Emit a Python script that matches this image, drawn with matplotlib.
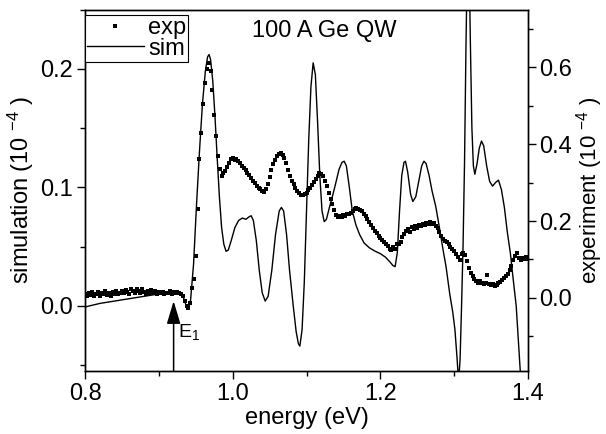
"""Ge quantum well: measured vs simulated spectrum, two y scales."""
import numpy as np
import matplotlib
matplotlib.use("Agg")
import matplotlib.pyplot as plt
from matplotlib.ticker import MultipleLocator, FormatStrFormatter
from matplotlib.lines import Line2D

plt.rcParams["font.family"] = ["Liberation Sans", "DejaVu Sans"]
plt.rcParams["mathtext.fontset"] = "custom"
plt.rcParams["mathtext.rm"] = "Liberation Sans"
plt.rcParams["mathtext.it"] = "Liberation Sans"

FS = 17

# experiment: energy grid 0.80 .. 1.40 eV, step 0.0025 (right axis, 1e-4)
exp_energy = np.round(np.arange(0.80, 1.40001, 0.0025), 4)
exp_signal = [
    0.010, 0.004, 0.013, 0.007, 0.015, 0.005, 0.011, 0.016, 0.006, 0.012, 0.009,
    0.017, 0.008, 0.013, 0.005, 0.015, 0.011, 0.019, 0.009, 0.014, 0.018,
    0.012, 0.021, 0.015, 0.010, 0.023, 0.017, 0.013, 0.024, 0.019, 0.014,
    0.022, 0.016, 0.011, 0.019, 0.014, 0.020, 0.012, 0.017, 0.009, 0.015,
    0.012, 0.016, 0.010, 0.014, 0.013, 0.017, 0.011, 0.015, 0.012, 0.016,
    0.013, 0.010, 0.005, -0.008, -0.020, -0.026, -0.012, 0.025, 0.050, 0.110,
    0.230, 0.360, 0.430, 0.505, 0.560, 0.595, 0.610, 0.590, 0.540, 0.475,
    0.420, 0.370, 0.335, 0.318, 0.325, 0.330, 0.340, 0.350, 0.360, 0.363,
    0.358, 0.362, 0.355, 0.350, 0.343, 0.338, 0.332, 0.326, 0.319, 0.312,
    0.305, 0.298, 0.292, 0.287, 0.283, 0.279, 0.276, 0.282, 0.296, 0.315,
    0.332, 0.347, 0.358, 0.368, 0.373, 0.376, 0.372, 0.363, 0.350, 0.333,
    0.318, 0.305, 0.296, 0.287, 0.278, 0.272, 0.268, 0.267, 0.270, 0.274,
    0.280, 0.286, 0.294, 0.302, 0.310, 0.318, 0.324, 0.322, 0.316, 0.305,
    0.290, 0.274, 0.258, 0.243, 0.228, 0.215, 0.211, 0.214, 0.210, 0.216,
    0.213, 0.219, 0.217, 0.222, 0.226, 0.231, 0.233, 0.232, 0.228, 0.225,
    0.219, 0.212, 0.205, 0.197, 0.189, 0.181, 0.175, 0.168, 0.162, 0.157,
    0.151, 0.146, 0.139, 0.134, 0.128, 0.125, 0.132, 0.127, 0.139, 0.141,
    0.146, 0.158, 0.166, 0.174, 0.179, 0.172, 0.184, 0.178, 0.188, 0.183,
    0.190, 0.186, 0.192, 0.189, 0.195, 0.191, 0.197, 0.193, 0.196, 0.188,
    0.182, 0.171, 0.160, 0.154, 0.149, 0.146, 0.140, 0.132, 0.128, 0.121,
    0.114, 0.106, 0.099, 0.113, 0.118, 0.112, 0.095, 0.079, 0.066, 0.056,
    0.050, 0.044, 0.040, 0.045, 0.038, 0.036, 0.039, 0.060, 0.035, 0.033,
    0.037, 0.031, 0.034, 0.038, 0.042, 0.047, 0.052, 0.058, 0.063, 0.072,
    0.083, 0.098, 0.108, 0.117, 0.105, 0.098, 0.104, 0.100, 0.107, 0.102,
]

# simulation (left axis, 1e-4)
sim_energy = [
    0.800, 0.820, 0.840, 0.860, 0.880, 0.900, 0.920, 0.928, 0.932, 0.935,
    0.938, 0.940, 0.943, 0.947, 0.951, 0.955, 0.959, 0.963, 0.966, 0.968,
    0.970, 0.973, 0.976, 0.979, 0.982, 0.985, 0.988, 0.991, 0.994, 0.998,
    1.003, 1.008, 1.013, 1.018, 1.022, 1.025, 1.028, 1.032, 1.036, 1.040,
    1.044, 1.048, 1.053, 1.058, 1.063, 1.066, 1.069, 1.073, 1.077, 1.082,
    1.086, 1.089, 1.091, 1.094, 1.097, 1.100, 1.103, 1.106, 1.109, 1.112,
    1.115, 1.118, 1.121, 1.124, 1.127, 1.131, 1.135, 1.139, 1.144, 1.148,
    1.151, 1.154, 1.158, 1.162, 1.167, 1.172, 1.178, 1.185, 1.193, 1.200,
    1.207, 1.213, 1.217, 1.220, 1.223, 1.226, 1.229, 1.232, 1.234, 1.237,
    1.241, 1.244, 1.248, 1.252, 1.256, 1.259, 1.262, 1.266, 1.270, 1.275,
    1.280, 1.285, 1.289, 1.294, 1.298, 1.301, 1.304, 1.306, 1.308, 1.310,
    1.312, 1.314, 1.316, 1.318, 1.320, 1.322, 1.324, 1.326, 1.328, 1.331,
    1.334, 1.337, 1.340, 1.344, 1.348, 1.352, 1.356, 1.360, 1.364, 1.368,
    1.372, 1.376, 1.380, 1.384, 1.387, 1.390, 1.393,
]
sim_signal = [
    -0.001, 0.002, 0.004, 0.006, 0.008, 0.010, 0.011, 0.011, 0.009, 0.004,
    -0.002, -0.003, 0.005, 0.035, 0.085, 0.130, 0.170, 0.198, 0.210, 0.212,
    0.208, 0.190, 0.160, 0.125, 0.092, 0.066, 0.052, 0.046, 0.047, 0.055,
    0.066, 0.072, 0.074, 0.073, 0.075, 0.076, 0.072, 0.055, 0.030, 0.011,
    0.004, 0.008, 0.030, 0.060, 0.080, 0.083, 0.080, 0.060, 0.030, 0.000,
    -0.022, -0.032, -0.034, -0.020, 0.020, 0.080, 0.140, 0.185, 0.205, 0.195,
    0.155, 0.110, 0.080, 0.071, 0.073, 0.083, 0.092, 0.102, 0.115, 0.121,
    0.122, 0.118, 0.100, 0.080, 0.068, 0.060, 0.053, 0.049, 0.046, 0.044,
    0.041, 0.037, 0.034, 0.033, 0.045, 0.080, 0.110, 0.121, 0.122, 0.113,
    0.094, 0.088, 0.092, 0.105, 0.118, 0.122, 0.120, 0.110, 0.097, 0.084,
    0.066, 0.047, 0.033, 0.010, -0.005, -0.020, -0.045, -0.065, -0.045, 0.000,
    0.050, 0.120, 0.220, 0.300, 0.300, 0.220, 0.150, 0.118, 0.111, 0.120,
    0.133, 0.139, 0.135, 0.118, 0.105, 0.101, 0.104, 0.106, 0.098, 0.083,
    0.062, 0.045, 0.022, 0.000, -0.030, -0.060, -0.090,
]

E1 = 0.92

fig = plt.figure(figsize=(6.06, 4.34), dpi=100)
ax = fig.add_axes([0.1403, 0.1452, 0.7310, 0.8329])
ax2 = ax.twinx()

ax.plot(sim_energy, sim_signal, color="black", lw=1.0)
ax2.plot(exp_energy, exp_signal, ls="none", marker="s", ms=2.6,
         color="black", mew=0)

ax.set_xlim(0.8, 1.4)
ax.set_ylim(-0.055, 0.25)
ax2.set_ylim(-0.19, 0.75)

ax.xaxis.set_major_locator(MultipleLocator(0.2))
ax.xaxis.set_minor_locator(MultipleLocator(0.1))
ax.yaxis.set_major_locator(MultipleLocator(0.1))
ax.yaxis.set_minor_locator(MultipleLocator(0.05))
ax2.yaxis.set_major_locator(MultipleLocator(0.2))
ax2.yaxis.set_minor_locator(MultipleLocator(0.1))
for a in (ax.xaxis, ax.yaxis, ax2.yaxis):
    a.set_major_formatter(FormatStrFormatter("%.1f"))

for a in (ax, ax2):
    a.tick_params(which="both", direction="out", labelsize=FS, width=1.0)
    a.tick_params(which="major", length=6, pad=3)
    a.tick_params(which="minor", length=3.5)
    for s in a.spines.values():
        s.set_linewidth(1.0)
ax2.tick_params(which="major", pad=2)

ax.set_xlabel("energy (eV)", fontsize=FS, labelpad=1)
ax.set_ylabel("simulation (10 $^{-4}$ )", fontsize=FS, labelpad=3)

# right label as a plain figure text hugging the right edge, clear of ticks
fig.text(0.999, 0.5615, "experiment (10 $^{-4}$ )", rotation=90,
         fontsize=16, ha="right", va="center")

ax.text(0.54, 0.94, "100 A Ge QW", transform=ax.transAxes,
        ha="center", va="center", fontsize=FS)

# E1 marker
ax.annotate("", xy=(E1, 0.004), xytext=(E1, -0.055),
            arrowprops=dict(arrowstyle="-|>,head_length=1.4,head_width=0.42",
                            color="black", lw=1.1, shrinkA=0, shrinkB=0))
ax.text(E1 + 0.006, -0.022, "E$_1$", fontsize=14, ha="left", va="center")

handles = [Line2D([], [], ls="none", marker="s", ms=3, color="black", mew=0),
           Line2D([], [], color="black", lw=1.0)]
leg = ax2.legend(handles, ["exp", "sim"], loc="upper left",
                 bbox_to_anchor=(0.0, 0.985), borderaxespad=0, fontsize=FS,
                 handlelength=2.4, handletextpad=0.2, labelspacing=-0.05,
                 borderpad=0.08, fancybox=False, framealpha=1)
leg.get_frame().set_edgecolor("black")
leg.get_frame().set_linewidth(0.8)

fig.savefig("out.png", dpi=100)
